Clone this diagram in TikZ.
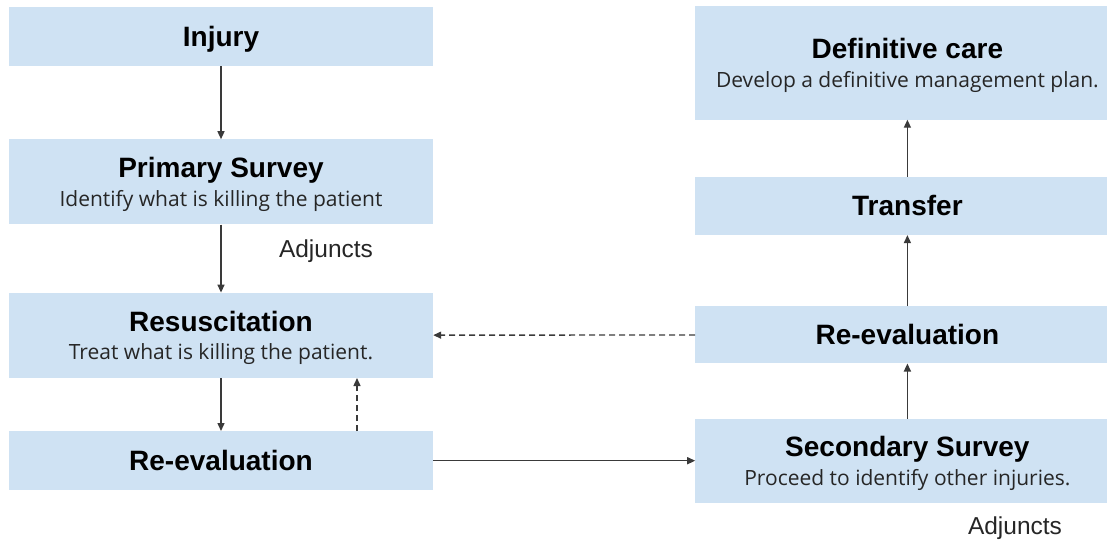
\documentclass[tikz,border=0pt]{standalone}
\usepackage{fontspec}
\setmainfont{Liberation Sans}
\newfontfamily\notefont{Open Sans}
\usetikzlibrary{positioning,arrows.meta}
\definecolor{boxblue}{HTML}{CFE2F3}
\definecolor{linegray}{HTML}{3A3A3A}
\newcommand{\stagetitle}[1]{{\fontsize{28}{28.5}\selectfont\bfseries #1}}
\newcommand{\stagenote}[1]{{\notefont\fontsize{21}{28.5}\selectfont\color{black!85} #1}}

\tikzset{
	stage/.style={fill=boxblue, inner sep=0pt, align=center, text=black, minimum width=424pt, text height=20pt, text depth=0pt, font=\fontsize{21}{28.5}\selectfont},
	twoline/.style={stage, text height=49pt},
	flow/.style={draw=linegray, line width=1.4pt, -{Triangle[length=8pt,width=7pt]}},
	back/.style={flow, dash pattern=on 6pt off 4pt},
	note/.style={font=\fontsize{24.5}{26}\selectfont, text=black!85}
}

\begin{document}
\begin{tikzpicture}[x=1pt, y=1pt]
	\useasboundingbox (0,0) rectangle (1107,-543);

	\node [stage, minimum height=59pt] (inj) at (221,-36.5) {\stagetitle{Injury}};
	\node [twoline, minimum height=85pt, below=73pt of inj] (prim) {\stagetitle{Primary Survey}\\\stagenote{Identify what is killing the patient}};
	\node [twoline, minimum height=85pt, below=68pt of prim] (res) {\stagetitle{Resuscitation}\\\stagenote{Treat what is killing the patient.}};
	\node [stage, minimum height=59pt, below=53pt of res] (rev1) {\stagetitle{Re-evaluation}};

	\node [twoline, minimum height=84pt, right=262pt of rev1] (sec) {\stagetitle{Secondary Survey}\\\stagenote{Proceed to identify other injuries.}};
	\node [stage, minimum height=57pt, above=55pt of sec] (rev2) {\stagetitle{Re-evaluation}};
	\node [stage, minimum height=58pt, above=71pt of rev2] (tra) {\stagetitle{Transfer}};
	\node [twoline, minimum height=113pt, above=57pt of tra] (def) {\stagetitle{Definitive care}\\\stagenote{Develop a definitive management plan.}};

	\node [note] (adj1) at (326,-251) {Adjuncts};
	\node [note] (adj2) at (1015,-528) {Adjuncts};

	\draw [flow] (inj) -- (prim);
	\draw [flow] (prim) -- (res);
	\draw [flow] (res) -- (rev1);
	\draw [back] ([xshift=136pt]rev1.north) -- ([xshift=136pt]res.south);
	\draw [flow] (rev1) -- (sec);
	\draw [back] (rev2) -- (res);
	\draw [flow] (sec) -- (rev2);
	\draw [flow] (rev2) -- (tra);
	\draw [flow] (tra) -- (def);
\end{tikzpicture}
\end{document}
